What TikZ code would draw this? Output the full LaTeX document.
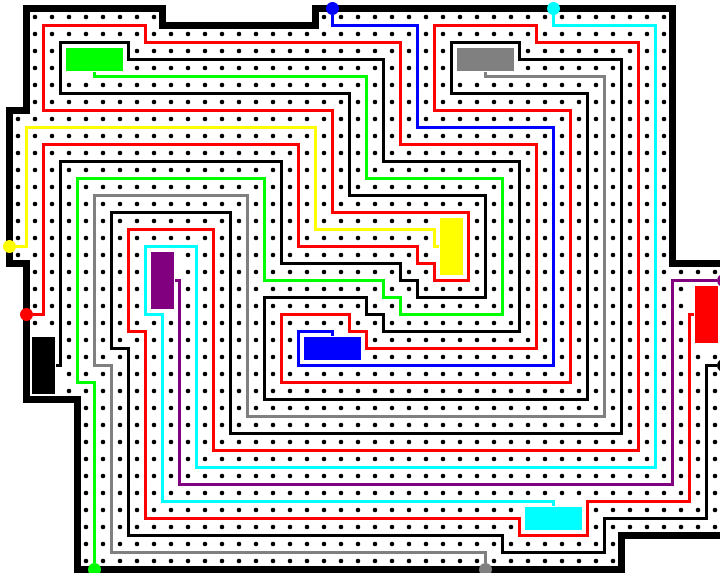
\documentclass[tikz,border=0pt]{standalone}
\usepackage{tikz}
\usepackage{xcolor}
\definecolor{netpurple}{RGB}{128,0,128}
\definecolor{netgray}{RGB}{128,128,128}
\definecolor{netcyan}{RGB}{0,255,255}
\definecolor{netred}{RGB}{255,0,0}
\definecolor{netgreen}{RGB}{0,255,0}
\definecolor{netblue}{RGB}{0,0,255}
\definecolor{netyellow}{RGB}{255,255,0}

\begin{document}
\begin{tikzpicture}[x=1cm, y=-1cm,
    wire/.style={line width=0.18cm, draw=#1},
    termbox/.style={rectangle, fill=#1, draw=white, line width=0.4pt, inner sep=0pt},
    hbox/.style={termbox=#1, minimum width=3.4cm, minimum height=1.4cm},
    vbox/.style={termbox=#1, minimum width=1.4cm, minimum height=3.4cm},
    termdot/.style={circle, fill=#1, inner sep=0pt, minimum size=0.76cm}]
    \useasboundingbox (-1.0588,-1) rectangle (41.2941,32.6471);
    \clip (-1.0588,-1) rectangle (41.2941,32.6471);
    \fill[white] (-1.0588,-1) rectangle (41.2941,32.6471);

    % Outer wall
    \draw[line width=0.46cm] (0.5,-0.5) -- (8.5,-0.5) -- (8.5,0.5) -- (17.5,0.5)
        -- (17.5,-0.5) -- (38.5,-0.5) -- (38.5,14.5) -- (41.5,14.5) -- (41.5,30.5)
        -- (35.5,30.5) -- (35.5,32.5) -- (3.5,32.5) -- (3.5,22.5) -- (0.5,22.5)
        -- (0.5,14.5) -- (-0.5,14.5) -- (-0.5,5.5) -- (0.5,5.5) -- cycle;

    % Grid of holes
    \foreach \i in {1,...,8} \fill (\i,0) circle (0.135cm);
    \foreach \i in {18,...,38} \fill (\i,0) circle (0.135cm);
    \foreach \j in {1,...,5} \foreach \i in {1,...,38} \fill (\i,\j) circle (0.135cm);
    \foreach \j in {6,...,14} \foreach \i in {0,...,38} \fill (\i,\j) circle (0.135cm);
    \foreach \j in {15,...,22} \foreach \i in {1,...,41} \fill (\i,\j) circle (0.135cm);
    \foreach \j in {23,...,30} \foreach \i in {4,...,41} \fill (\i,\j) circle (0.135cm);
    \foreach \j in {31,32} \foreach \i in {4,...,35} \fill (\i,\j) circle (0.135cm);

    % Terminal blocks
    \node[hbox=netgreen] (greenbox) at (4.5,2.5) {};
    \node[hbox=netgray] (graybox) at (27.5,2.5) {};
    \node[vbox=netyellow] (yellowbox) at (25.5,13.5) {};
    \node[hbox=netblue] (bluebox) at (18.5,19.5) {};
    \node[vbox=netpurple] (purplebox) at (8.5,15.5) {};
    \node[vbox=netred] (redbox) at (40.5,17.5) {};
    \node[hbox=netcyan] (cyanbox) at (31.5,29.5) {};
    \node[vbox=black] (blackbox) at (1.5,20.5) {};

    % Terminal pins on the wall
    \node[termdot=netblue] (bluepin) at (18.5,-0.5) {};
    \node[termdot=netcyan] (cyanpin) at (31.5,-0.5) {};
    \node[termdot=netyellow] (yellowpin) at (-0.5,13.5) {};
    \node[termdot=netred] (redpin) at (0.5,17.5) {};
    \node[termdot=netgreen] (greenpin) at (4.5,32.5) {};
    \node[termdot=netgray] (graypin) at (27.5,32.5) {};
    \node[termdot=netpurple] (purplepin) at (41.5,15.5) {};
    \node[termdot=black] (blackpin) at (41.5,20.5) {};

    % Red net
    \draw[wire=netred] (redbox.west) -- (39.5,17.5) -- (39.5,28.5) -- (33.5,28.5)
        -- (33.5,30.5) -- (29.5,30.5) -- (29.5,29.5) -- (7.5,29.5) -- (7.5,18.5)
        -- (6.5,18.5) -- (6.5,12.5) -- (11.5,12.5) -- (11.5,25.5) -- (36.5,25.5)
        -- (36.5,1.5) -- (30.5,1.5) -- (30.5,0.5) -- (24.5,0.5) -- (24.5,5.5)
        -- (32.5,5.5) -- (32.5,21.5) -- (15.5,21.5) -- (15.5,17.5) -- (19.5,17.5)
        -- (19.5,18.5) -- (20.5,18.5) -- (20.5,19.5) -- (30.5,19.5) -- (30.5,7.5)
        -- (22.5,7.5) -- (22.5,1.5) -- (7.5,1.5) -- (7.5,0.5) -- (1.5,0.5)
        -- (1.5,5.5) -- (18.5,5.5) -- (18.5,11.5) -- (26.5,11.5) -- (26.5,15.5)
        -- (24.5,15.5) -- (24.5,14.5) -- (23.5,14.5) -- (23.5,13.5) -- (16.5,13.5)
        -- (16.5,7.5) -- (1.5,7.5) -- (1.5,17.5) -- (redpin);

    % Black net
    \draw[wire=black] (blackbox.east) -- (2.5,20.5) -- (2.5,8.5) -- (15.5,8.5)
        -- (15.5,14.5) -- (22.5,14.5) -- (22.5,15.5) -- (23.5,15.5) -- (23.5,16.5)
        -- (27.5,16.5) -- (27.5,10.5) -- (19.5,10.5) -- (19.5,4.5) -- (2.5,4.5)
        -- (2.5,1.5) -- (6.5,1.5) -- (6.5,2.5) -- (21.5,2.5) -- (21.5,8.5)
        -- (29.5,8.5) -- (29.5,18.5) -- (21.5,18.5) -- (21.5,17.5) -- (20.5,17.5)
        -- (20.5,16.5) -- (14.5,16.5) -- (14.5,22.5) -- (33.5,22.5) -- (33.5,4.5)
        -- (25.5,4.5) -- (25.5,1.5) -- (29.5,1.5) -- (29.5,2.5) -- (35.5,2.5)
        -- (35.5,24.5) -- (12.5,24.5) -- (12.5,11.5) -- (5.5,11.5) -- (5.5,19.5)
        -- (6.5,19.5) -- (6.5,30.5) -- (28.5,30.5) -- (28.5,31.5) -- (34.5,31.5)
        -- (34.5,29.5) -- (40.5,29.5) -- (40.5,20.5) -- (blackpin);

    % Gray net
    \draw[wire=netgray] (graybox.south) -- (27.5,3.5) -- (34.5,3.5) -- (34.5,23.5)
        -- (13.5,23.5) -- (13.5,10.5) -- (4.5,10.5) -- (4.5,20.5) -- (5.5,20.5)
        -- (5.5,31.5) -- (27.5,31.5) -- (graypin);

    % Green net
    \draw[wire=netgreen] (greenbox.south) -- (4.5,3.5) -- (20.5,3.5) -- (20.5,9.5)
        -- (28.5,9.5) -- (28.5,17.5) -- (22.5,17.5) -- (22.5,16.5) -- (21.5,16.5)
        -- (21.5,15.5) -- (14.5,15.5) -- (14.5,9.5) -- (3.5,9.5) -- (3.5,21.5)
        -- (4.5,21.5) -- (greenpin);

    % Blue net
    \draw[wire=netblue] (bluepin) -- (18.5,0.5) -- (23.5,0.5) -- (23.5,6.5) -- (31.5,6.5)
        -- (31.5,20.5) -- (16.5,20.5) -- (16.5,18.5) -- (18.5,18.5) -- (bluebox.north);

    % Yellow net
    \draw[wire=netyellow] (yellowpin) -- (0.5,13.5) -- (0.5,6.5) -- (17.5,6.5)
        -- (17.5,12.5) -- (24.5,12.5) -- (24.5,13.5) -- (yellowbox.west);

    % Cyan net
    \draw[wire=netcyan] (cyanpin) -- (31.5,0.5) -- (37.5,0.5) -- (37.5,26.5)
        -- (10.5,26.5) -- (10.5,13.5) -- (7.5,13.5) -- (7.5,17.5) -- (8.5,17.5)
        -- (8.5,28.5) -- (31.5,28.5) -- (cyanbox.north);

    % Purple net
    \draw[wire=netpurple] (purplepin) -- (38.5,15.5) -- (38.5,27.5) -- (9.5,27.5)
        -- (9.5,15.5) -- (purplebox.east);
\end{tikzpicture}
\end{document}
